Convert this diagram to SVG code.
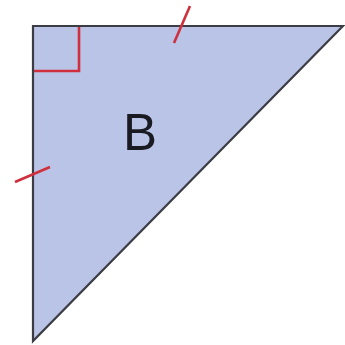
<svg xmlns="http://www.w3.org/2000/svg" width="345" height="345" viewBox="0 0 345 345">
<style>
.tri{fill:#bac4e6;stroke:#3c3c44;stroke-width:2.2;stroke-linejoin:miter}
.mark{fill:none;stroke:#d0303e;stroke-width:2.6}
.lbl{font-family:"Liberation Sans",Arial,sans-serif;font-size:51px;fill:#1a1a22;text-anchor:middle}
</style>
<rect width="345" height="345" fill="#ffffff"/>
<g id="triangle">
<polygon class="tri" points="33,26 343,26 33,341"/>
</g>
<g id="marks">
<polyline class="mark" points="34,71 79,71 79,27"/>
<line class="mark" x1="174" y1="43" x2="190" y2="6"/>
<line class="mark" x1="15" y1="182" x2="50" y2="167"/>
</g>
<g id="label">
<text class="lbl" x="140" y="150">B</text>
</g>
</svg>
